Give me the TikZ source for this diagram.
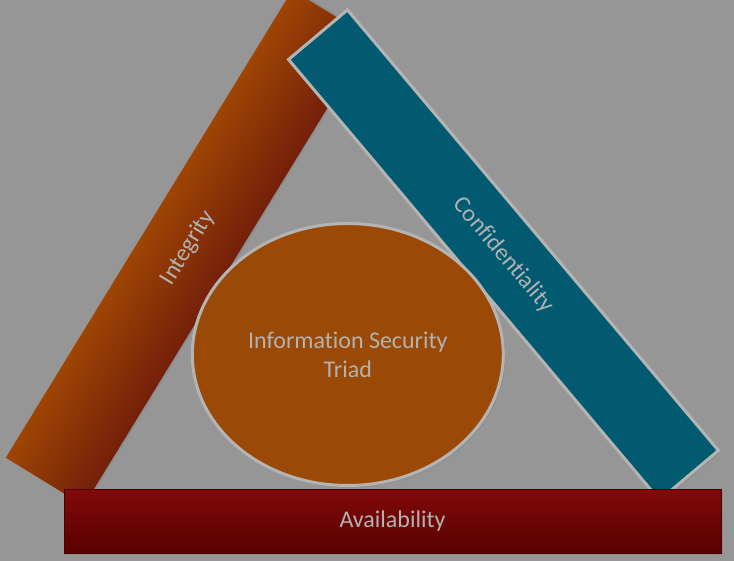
\documentclass[tikz,border=0pt]{standalone}
\usepackage{fontspec}
\setmainfont{Carlito}[Ligatures={NoCommon}]
\usetikzlibrary{shapes.geometric,shadows}
\definecolor{bg}{HTML}{969696}
\definecolor{orA}{HTML}{9E4504}
\definecolor{orB}{HTML}{74200A}
\definecolor{blueC}{HTML}{015A6F}
\definecolor{bord}{HTML}{B4B4B4}
\definecolor{ellC}{HTML}{9A4A06}
\definecolor{redA}{HTML}{820A0A}
\definecolor{redB}{HTML}{580000}
\definecolor{redE}{HTML}{4A0000}
\definecolor{txt}{HTML}{B2B2B2}
\begin{document}
\begin{tikzpicture}[x=1pt,y=-1pt,
  bar/.style={rectangle, inner sep=0pt, font=\fontsize{24}{29}\selectfont, text=txt},
  shade/.style={drop shadow={opacity=0.35, shadow xshift=2pt, shadow yshift=-2pt}}]
\fill[bg] (0,0) rectangle (734,561);
\useasboundingbox (0,0) rectangle (734,561);
% Integrity bar (shading follows the bar through a canvas rotation)
\begin{scope}[transform canvas={shift={(188.1,247.8)}, rotate=58.5}]
\node[bar, shade, minimum width=548.5pt, minimum height=91.5pt,
      top color=orA, middle color=orA!80!orB, bottom color=orB] (integrity) at (0,0) {Integrity};
\end{scope}
% Confidentiality bar
\node[bar, shade, minimum width=576pt, minimum height=77pt, rotate=-49.9,
      fill=blueC, draw=bord, line width=3pt] (conf) at (503.5,255) {Confidentiality};
% Ellipse
\node[ellipse, shade, inner sep=0pt, minimum width=311pt, minimum height=262pt,
      fill=ellC, draw=bord, line width=3pt, align=center, text=txt,
      font=\fontsize{24}{29}\selectfont] (triad) at (347.8,354.5) {Information Security\\Triad};
% Availability bar
\node[bar, shade, minimum width=657pt, minimum height=64pt, anchor=north west,
      top color=redA, bottom color=redB, draw=redE, line width=1pt] (avail) at (63.5,488.5) {Availability};
\end{tikzpicture}
\end{document}
